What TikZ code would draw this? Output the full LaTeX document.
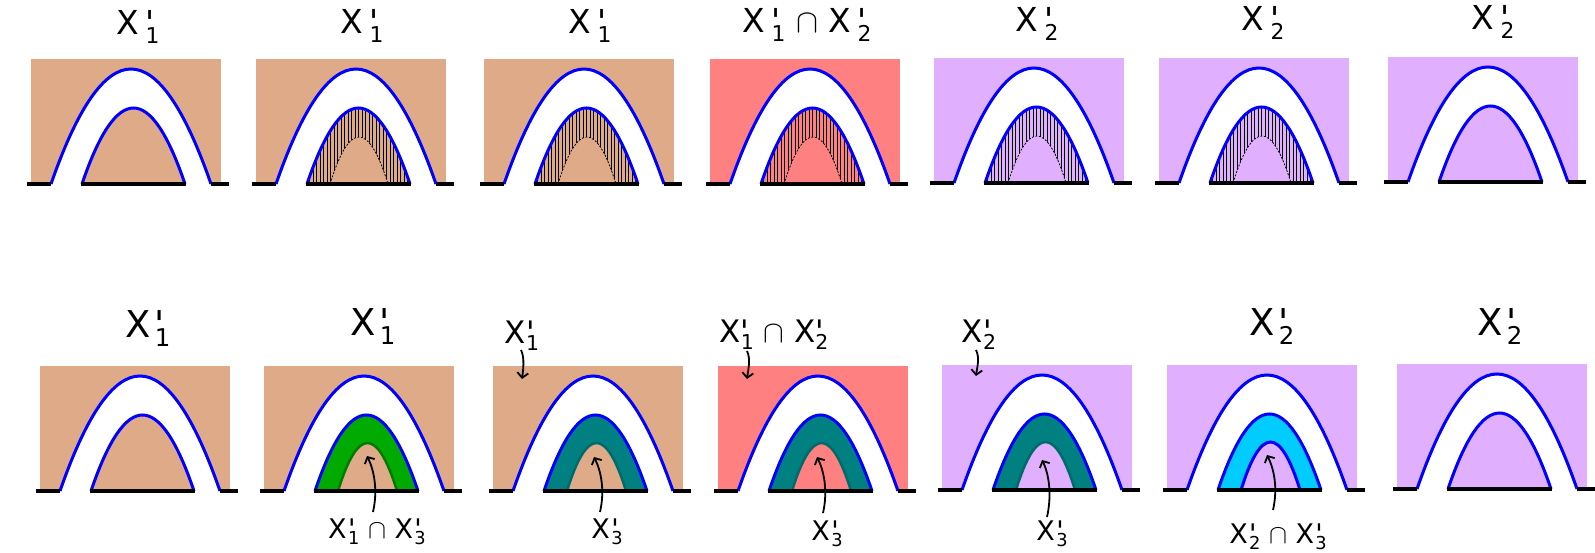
\RequirePackage{fix-cm}
\documentclass[tikz,border=0pt]{standalone}
\usepackage{fontspec}
\setmainfont{DejaVu Sans}
\newfontfamily\labfont{DejaVu Sans}
\usepackage{graphicx}
\usetikzlibrary{arrows.meta}
\definecolor{brownbg}{HTML}{DEAA88}
\definecolor{pinkbg}{HTML}{FF8080}
\definecolor{lilacbg}{HTML}{E0B0FF}
\definecolor{bandgreen}{HTML}{00AA00}
\definecolor{linegreen}{HTML}{007A00}
\definecolor{bandteal}{HTML}{008080}
\definecolor{lineteal}{HTML}{006A6A}
\definecolor{bandcyan}{HTML}{00CCFF}
\tikzset{
  archline/.style={draw=blue, line width=3pt},
  groundline/.style={draw=black, line width=4.5pt},
  hatchline/.style={draw=black, line width=0.8pt},
  dashcurve/.style={draw=black, line width=0.8pt, dash pattern=on 2pt off 1.5pt},
  arrowline/.style={draw=black, line width=1.8pt, -{Straight Barb[length=5pt,width=11pt]}},
  toplab/.style={font=\labfont\fontsize{33}{38}\selectfont, inner sep=0pt, anchor=base},
  biglab/.style={font=\labfont\fontsize{37}{42}\selectfont, inner sep=0pt, anchor=base},
  cornerlab/.style={font=\labfont\fontsize{31}{36}\selectfont, inner sep=0pt, anchor=base},
  smalllab/.style={font=\labfont\fontsize{27}{31}\selectfont, inner sep=0pt, anchor=base},
}
\newcommand{\Xq}[2][0.12em]{X\kern#1\rlap{'}\raisebox{-0.25em}{\scalebox{0.66}{#2}}}
\newcommand{\capsym}{$\cap$}
\newcommand{\archcurve}[4]{({#1},{#4}) .. controls ({(#1)+((#2)-(#1))/3},{(#4)-4*(#3)/3}) and ({(#2)-((#2)-(#1))/3},{(#4)-4*(#3)/3}) .. ({#2},{#4})}
\newcommand{\panelfill}[3]{%
  \fill[#3] ({#1},{#2-125}) rectangle ({#1+190},{#2});
  \fill[white] \archcurve{#1+20}{#1+180}{115}{#2} -- cycle;
  \fill[#3] \archcurve{#1+51}{#1+154}{76}{#2} -- cycle;
}
\newcommand{\panellines}[2]{%
  \draw[archline] \archcurve{#1+20}{#1+180}{115}{#2};
  \draw[archline] \archcurve{#1+51}{#1+154}{76}{#2};
  \draw[groundline] ({#1-4},{#2}) -- ({#1+20},{#2});
  \draw[groundline] ({#1+50},{#2}) -- ({#1+155},{#2});
  \draw[groundline] ({#1+180},{#2}) -- ({#1+198},{#2});
}
\newcommand{\hatchfill}[3]{%
  \begin{scope}
    \clip \archcurve{#1+51}{#1+154}{76}{#2} -- cycle;
    \foreach \k in {0,...,30} {\draw[hatchline] ({#1+50+\k*3.5},{#2}) -- ++(0,-80);}
  \end{scope}
  \fill[#3] \archcurve{#1+74}{#1+132}{47}{#2} -- cycle;
  \draw[dashcurve] \archcurve{#1+74}{#1+132}{47}{#2};
}
\newcommand{\bandfill}[5]{%
  \fill[#4] \archcurve{#1+51}{#1+154}{76}{#2} -- cycle;
  \fill[#3] \archcurve{#1+74}{#1+133}{48}{#2} -- cycle;
  \draw[#5] \archcurve{#1+74}{#1+133}{48}{#2};
}
\begin{document}
\begin{tikzpicture}[x=1pt,y=-1pt]
\useasboundingbox (0,0) rectangle (1595,553);
% ---------- top row ----------
\panelfill{31}{184}{brownbg}\panellines{31}{184}
\panelfill{256}{184}{brownbg}\hatchfill{256}{184}{brownbg}\panellines{256}{184}
\panelfill{484}{184}{brownbg}\hatchfill{484}{184}{brownbg}\panellines{484}{184}
\panelfill{710}{184}{pinkbg}\hatchfill{710}{184}{pinkbg}\panellines{710}{184}
\panelfill{934}{183}{lilacbg}\hatchfill{934}{183}{lilacbg}\panellines{934}{183}
\panelfill{1159}{183}{lilacbg}\hatchfill{1159}{183}{lilacbg}\panellines{1159}{183}
\panelfill{1388}{182}{lilacbg}\panellines{1388}{182}
\node[toplab] (t1) at (138,35) {\Xq[0.2em]{1}};
\node[toplab] (t2) at (362,34) {\Xq[0.2em]{1}};
\node[toplab] (t3) at (590,34) {\Xq[0.2em]{1}};
\node[toplab] (t4) at (807,33) {\Xq[0.2em]{1} \capsym\ \Xq[0.2em]{2}};
\node[toplab] (t5) at (1037,32) {\Xq[0.2em]{2}};
\node[toplab] (t6) at (1263,31) {\Xq[0.2em]{2}};
\node[toplab] (t7) at (1493,30) {\Xq[0.2em]{2}};
% ---------- bottom row ----------
\panelfill{40}{491}{brownbg}\panellines{40}{491}
\panelfill{264}{491}{brownbg}\bandfill{264}{491}{brownbg}{bandgreen}{draw=linegreen,line width=2.5pt}\panellines{264}{491}
\panelfill{493}{491}{brownbg}\bandfill{493}{491}{brownbg}{bandteal}{draw=lineteal,line width=2.5pt}\panellines{493}{491}
\panelfill{718}{491}{pinkbg}\bandfill{718}{491}{pinkbg}{bandteal}{draw=lineteal,line width=2.5pt}\panellines{718}{491}
\panelfill{942}{490}{lilacbg}\bandfill{942}{490}{lilacbg}{bandteal}{draw=lineteal,line width=2.5pt}\panellines{942}{490}
\panelfill{1167}{490}{lilacbg}\bandfill{1167}{490}{lilacbg}{bandcyan}{draw=blue,line width=3pt}\panellines{1167}{490}
\panelfill{1397}{489}{lilacbg}\panellines{1397}{489}
\node[biglab] (b1) at (148,337) {\Xq[0.1em]{1}};
\node[biglab] (b2) at (373,335) {\Xq[0.1em]{1}};
\node[biglab] (b6) at (1272,335) {\Xq[0.1em]{2}};
\node[biglab] (b7) at (1500,335) {\Xq[0.1em]{2}};
\node[cornerlab] (c3) at (522,343) {\Xq[0em]{1}};
\node[cornerlab] (c4) at (774,342) {\Xq[0em]{1} \capsym\ \Xq[0em]{2}};
\node[cornerlab] (c5) at (979,342) {\Xq[0em]{2}};
\node[smalllab] (a2) at (377,538) {\Xq[0.05em]{1} \capsym\ \Xq[0.05em]{3}};
\node[smalllab] (a3) at (607,538) {\Xq[0.05em]{3}};
\node[smalllab] (a4) at (827,540) {\Xq[0.05em]{3}};
\node[smalllab] (a5) at (1052,540) {\Xq[0.05em]{3}};
\node[smalllab] (a6) at (1278,543) {\Xq[0.05em]{2} \capsym\ \Xq[0.05em]{3}};
% arrow ends
\coordinate (s2) at (373,512); \coordinate (e2) at (367,456);
\coordinate (s3) at (600,512); \coordinate (e3) at (594,457);
\coordinate (s4) at (823,513); \coordinate (e4) at (817,457);
\coordinate (s5) at (1047,517); \coordinate (e5) at (1042,460);
\coordinate (s6) at (1273,510); \coordinate (e6) at (1267,455);
\coordinate (k3) at (521,350); \coordinate (f3) at (522,379);
\coordinate (k4) at (747,351); \coordinate (f4) at (747,379);
\coordinate (k5) at (976,350); \coordinate (f5) at (976,376);
\foreach \i in {2,...,6} {\draw[arrowline] (s\i) .. controls +(5,-22) and +(7,14) .. (e\i);}
\foreach \i in {3,4,5} {\draw[arrowline] (k\i) .. controls +(4,8) and +(1,-8) .. (f\i);}
\end{tikzpicture}
\end{document}
